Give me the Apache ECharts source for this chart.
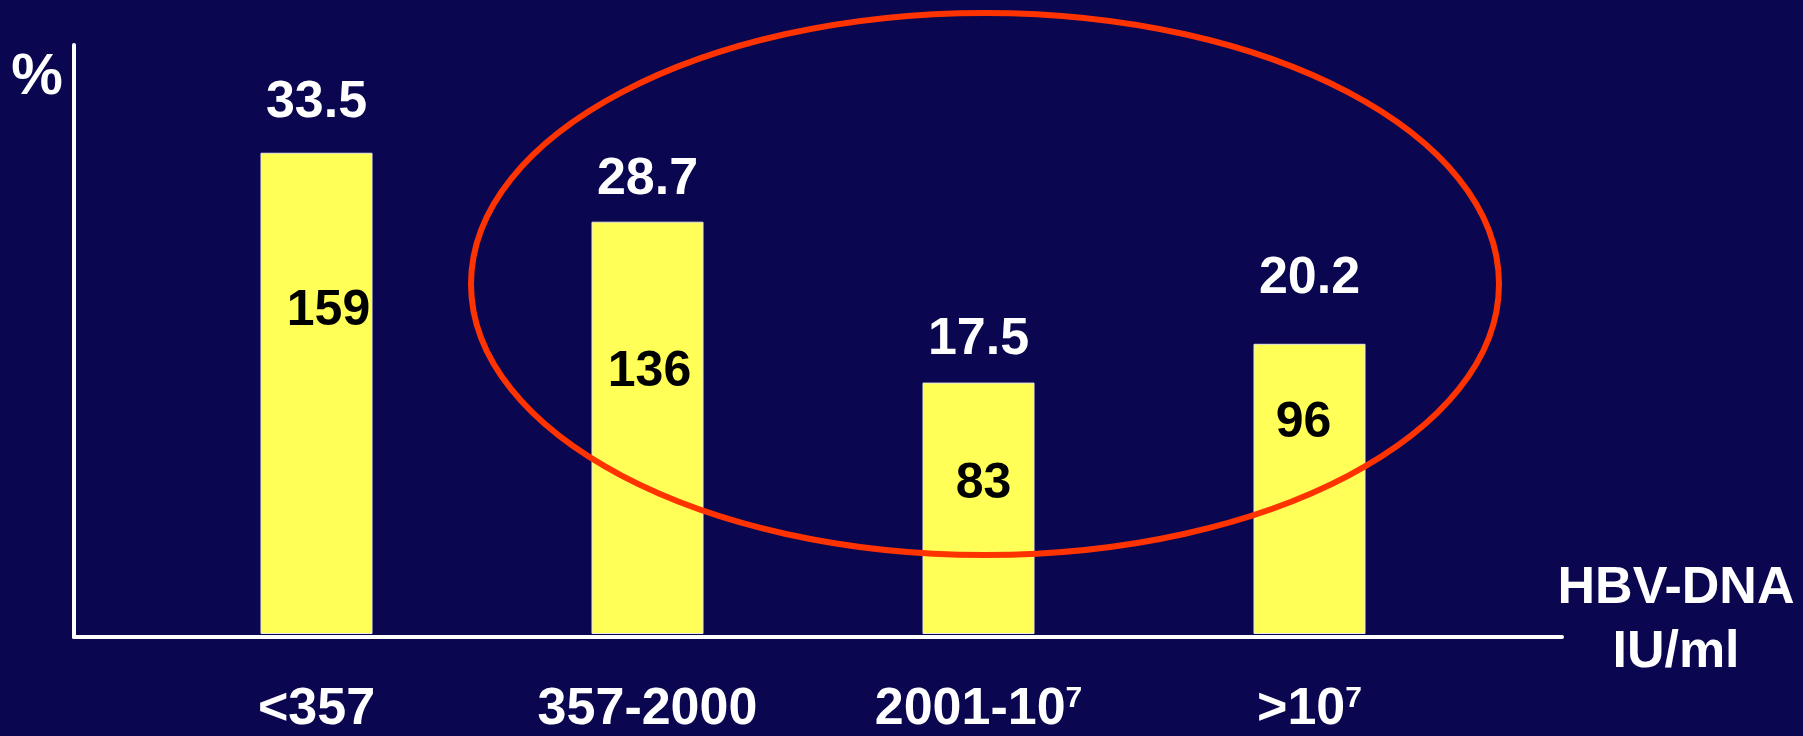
<!DOCTYPE html>
<html>
<head>
<meta charset="utf-8">
<style>
  html, body { margin: 0; padding: 0; background: #0b0650; }
  #main { width: 1803px; height: 736px; }
</style>
<script src="https://cdn.jsdelivr.net/npm/echarts@6/dist/echarts.min.js"></script>
</head>
<body>
<div id="main"></div>
<script>
// HBV-DNA groups, share (%) and patient counts
const categories = ["<357", "357-2000", "2001-10{sup|7}", ">10{sup|7}"];
const percents = [33.5, 28.7, 17.5, 20.2];
const counts = [159, 136, 83, 96];

// label placement tweaks (px)
const pctLabelGap = [24, 16, 17, 39];
const countLabelDy = [158, 151, 102, 79];
const countLabelDx = [12, 2, 5, -6];

const font = "Liberation Sans, Arial, sans-serif";

let dom = document.getElementById("main");
let myChart = echarts.init(dom, null, { renderer: "canvas" });

const pctData = percents.map((v, i) => ({
    value: v,
    label: { distance: pctLabelGap[i] },
}));

const countData = percents.map((v, i) => ({
    value: v,
    label: {
        position: ["50%", countLabelDy[i]],
        offset: [countLabelDx[i], 0],
    },
}));

let option = {
    backgroundColor: "#0b0650",
    animation: false,
    textStyle: { fontFamily: font },
    grid: [
        // axis frame only
        { left: 74, right: 241, top: 45, bottom: 99 },
        // bars
        { left: 151, right: 328, top: 45, bottom: 99 },
    ],
    xAxis: [
        {
            gridIndex: 0,
            type: "value",
            min: 0,
            max: 1,
            axisLine: { show: true, lineStyle: { color: "#ffffff", width: 4 } },
            axisTick: { show: false },
            axisLabel: { show: false },
            splitLine: { show: false },
            z: 5,
        },
        {
            gridIndex: 1,
            type: "category",
            data: categories,
            axisLine: { show: false },
            axisTick: { show: false },
            axisLabel: {
                interval: 0,
                margin: 50,
                color: "#ffffff",
                fontSize: 52,
                fontWeight: "bold",
                fontFamily: font,
                lineHeight: 52,
                rich: {
                    sup: {
                        fontSize: 30,
                        fontWeight: "bold",
                        fontFamily: font,
                        color: "#ffffff",
                        lineHeight: 26,
                        verticalAlign: "top",
                    },
                },
            },
        },
    ],
    yAxis: [
        {
            gridIndex: 0,
            type: "value",
            min: 0,
            max: 41,
            axisLine: { show: true, lineStyle: { color: "#ffffff", width: 4 } },
            axisTick: { show: false },
            axisLabel: { show: false },
            splitLine: { show: false },
            z: 5,
        },
        {
            gridIndex: 1,
            type: "value",
            min: 0,
            max: 41,
            show: false,
        },
    ],
    graphic: [
        {
            type: "text",
            x: 37,
            y: 78,
            style: {
                text: "%",
                fill: "#ffffff",
                font: "bold 58px " + font,
                align: "center",
                verticalAlign: "middle",
            },
        },
        {
            type: "text",
            x: 1676,
            y: 557,
            style: {
                text: "HBV-DNA\nIU/ml",
                fill: "#ffffff",
                font: "bold 52px " + font,
                lineHeight: 64,
                align: "center",
                verticalAlign: "top",
            },
        },
        {
            type: "ellipse",
            shape: { cx: 985, cy: 284, rx: 514, ry: 271 },
            style: { fill: "none", stroke: "#ff3300", lineWidth: 6 },
            z: 100,
        },
    ],
    series: [
        {
            type: "bar",
            xAxisIndex: 1,
            yAxisIndex: 1,
            data: pctData,
            barWidth: 112,
            itemStyle: {
                color: "#ffff57",
                borderColor: "#e8e8e8",
                borderWidth: 1,
            },
            label: {
                show: true,
                position: "top",
                color: "#ffffff",
                fontSize: 52,
                fontWeight: "bold",
                fontFamily: font,
            },
        },
        {
            type: "bar",
            xAxisIndex: 1,
            yAxisIndex: 1,
            data: countData,
            barWidth: 112,
            barGap: "-100%",
            itemStyle: { color: "rgba(0,0,0,0)" },
            label: {
                show: true,
                color: "#000000",
                fontSize: 50,
                fontWeight: "bold",
                fontFamily: font,
                align: "center",
                verticalAlign: "middle",
                formatter: (p) => counts[p.dataIndex],
            },
        },
    ],
};

if (option && typeof option === "object") {
    myChart.setOption(option);
}

window.addEventListener("resize", myChart.resize);
</script>
</body>
</html>
